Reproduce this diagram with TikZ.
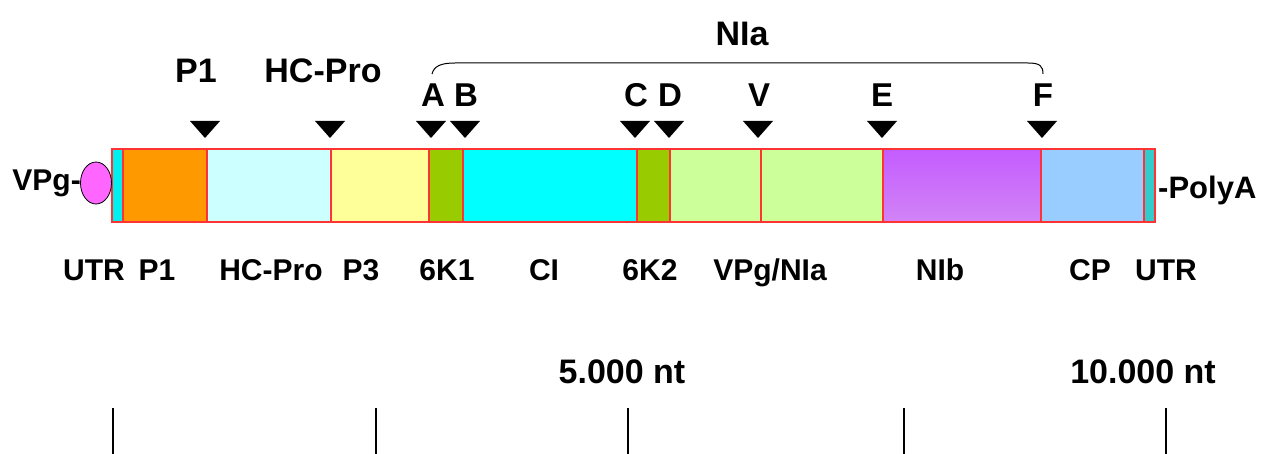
\documentclass[tikz,border=0pt]{standalone}
\usepackage{fontspec}
\setmainfont{Liberation Sans}
\usetikzlibrary{shapes.geometric}
\definecolor{utrA}{HTML}{00F0F0}
\definecolor{utrB}{HTML}{33CCCC}
\definecolor{pone}{HTML}{FF9900}
\definecolor{hcpro}{HTML}{CCFFFF}
\definecolor{pthree}{HTML}{FFFF99}
\definecolor{sixk}{HTML}{99CC00}
\definecolor{cicol}{HTML}{00FFFF}
\definecolor{vpgcol}{HTML}{CCFF99}
\definecolor{nibtop}{HTML}{C45CFF}
\definecolor{nibbot}{HTML}{D284F6}
\definecolor{cpcol}{HTML}{99CCFF}
\definecolor{segred}{HTML}{FF3333}
\definecolor{vpgball}{HTML}{FF66FF}
\tikzset{
  seg/.style={draw=segred, line width=1.3pt},
  cut/.style={fill=black},
  toplab/.style={font=\fontsize{34}{34}\selectfont\bfseries, inner sep=0pt, anchor=base},
  lettlab/.style={font=\fontsize{33}{33}\selectfont\bfseries, inner sep=0pt, anchor=base},
  botlab/.style={font=\fontsize{30}{30}\selectfont\bfseries, inner sep=0pt, anchor=base},
  ntlab/.style={font=\fontsize{34}{34}\selectfont\bfseries, inner sep=0pt, anchor=base},
  tick/.style={line width=1.2pt}
}
\begin{document}
\begin{tikzpicture}[x=1pt,y=-1pt]
\useasboundingbox[fill=white] (0,0) rectangle (1271,454);
% genome segments
\draw[seg, fill=utrA]   (112,149) rectangle (123,222);
\draw[seg, fill=pone]   (123,149) rectangle (207,222);
\draw[seg, fill=hcpro]  (207,149) rectangle (331,222);
\draw[seg, fill=pthree] (331,149) rectangle (429,222);
\draw[seg, fill=sixk]   (429,149) rectangle (463,222);
\draw[seg, fill=cicol]  (463,149) rectangle (637,222);
\draw[seg, fill=sixk]   (637,149) rectangle (670,222);
\draw[seg, fill=vpgcol] (670,149) rectangle (761,222);
\draw[seg, fill=vpgcol] (761,149) rectangle (883,222);
\shade[top color=nibtop, bottom color=nibbot] (883,149) rectangle (1041,222);
\draw[seg] (883,149) rectangle (1041,222);
\draw[seg, fill=cpcol]  (1041,149) rectangle (1144,222);
\draw[seg, fill=utrB]   (1144,149) rectangle (1155,222);
% VPg ball
\node[draw=black, fill=vpgball, ellipse, minimum width=31pt, minimum height=42pt, inner sep=0pt, line width=0.8pt] (ball) at (96,183) {};
\node[botlab, anchor=east, font=\fontsize{30}{30}\selectfont\bfseries] (vpg) at (81,183) {VPg-};
\node[botlab, anchor=west, font=\fontsize{31}{31}\selectfont\bfseries] (polya) at (1158,190) {-PolyA};
% cleavage triangles
\foreach \cx in {205,330,431,465,635,669,758,882,1042}
  \fill[cut] (\cx-15,121) -- (\cx+15,121) -- (\cx,138) -- cycle;
% top labels
\node[toplab] (lP1) at (196,83) {P1};
\node[toplab] (lHC) at (323,83) {HC-Pro};
\node[toplab] (lNIa) at (742,46) {NIa};
\foreach \nm/\cx in {A/433,B/466,C/636,D/670,V/759,E/882,F/1043}
  \node[lettlab] (l\nm) at (\cx,107) {\nm};
% bracket
\coordinate (bA) at (432,74);
\coordinate (bF) at (1043,74);
\draw[line width=1pt] (bA) .. controls (434,66) and (441,63) .. (455,63) -- (1028,63)
  .. controls (1040,63) and (1043,66) .. (bF);
% bottom labels
\foreach \nm/\cx [count=\i] in {UTR/94,P1/157,HC-Pro/271,P3/361,6K1/447,CI/544,6K2/650,{VPg/NIa}/770,NIb/940,CP/1090,UTR/1166}
  \node[botlab] (b\i) at (\cx,280) {\nm};
% scale
\node[ntlab] (n5) at (622,383) {5.000 nt};
\node[ntlab] (n10) at (1143,383) {10.000 nt};
\foreach \tx in {113,376,628,904,1166}
  \draw[tick] (\tx,408) -- (\tx,454);
\end{tikzpicture}
\end{document}
